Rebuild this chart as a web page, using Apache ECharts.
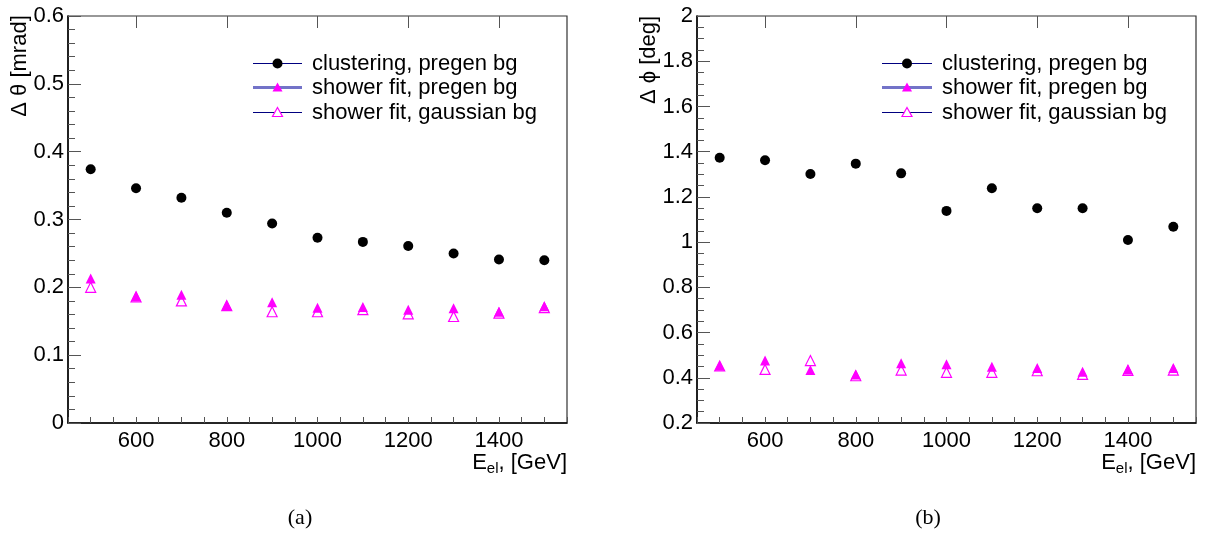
<!DOCTYPE html>
<html>
<head>
<meta charset="utf-8">
<script src="https://cdn.jsdelivr.net/npm/echarts@6/dist/echarts.min.js"></script>
<style>
  html, body { margin: 0; padding: 0; background: #fff; }
  #main { width: 1206px; height: 534px; }
</style>
</head>
<body>
<div id="main"></div>
<script>
// beam energies (GeV)
var energies = [500, 600, 700, 800, 900, 1000, 1100, 1200, 1300, 1400, 1500];

// (a) delta theta [mrad]
var thetaClustering = [0.374, 0.346, 0.332, 0.310, 0.294, 0.273, 0.267, 0.261, 0.250, 0.241, 0.240];
var thetaShowerPregen = [0.213, 0.187, 0.189, 0.174, 0.178, 0.170, 0.171, 0.167, 0.169, 0.164, 0.172];
var thetaShowerGauss = [0.200, 0.186, 0.180, 0.173, 0.164, 0.164, 0.167, 0.161, 0.157, 0.162, 0.170];

// (b) delta phi [deg]
var phiClustering = [1.373, 1.362, 1.301, 1.347, 1.304, 1.138, 1.238, 1.150, 1.150, 1.009, 1.068];
var phiShowerPregen = [0.453, 0.476, 0.434, 0.415, 0.464, 0.460, 0.449, 0.443, 0.427, 0.437, 0.443];
var phiShowerGauss = [0.452, 0.437, 0.476, 0.409, 0.434, 0.424, 0.424, 0.431, 0.415, 0.433, 0.434];

var legendNames = ['clustering, pregen bg', 'shower fit, pregen bg', 'shower fit, gaussian bg'];
var majorX = [600, 800, 1000, 1200, 1400];

var FONT = 'Liberation Sans, Arial, sans-serif';
var MAGENTA = '#ff00ff';

function pairs(ys) {
  return energies.map(function (x, i) { return [x, ys[i]]; });
}

var myChart = echarts.init(document.getElementById('main'));

function xAxes(gridIndex) {
  return [
    {
      type: 'value', gridIndex: gridIndex, min: 450, max: 1550, interval: 50,
      axisLine: { lineStyle: { color: '#000', width: 1.5 } },
      axisTick: { inside: true, length: 6, lineStyle: { color: '#555' } },
      axisLabel: {
        margin: 7, color: '#000', fontSize: 22, fontFamily: FONT,
        formatter: function (v) { return v % 200 === 0 ? String(v) : ''; }
      },
      splitLine: { show: false }
    },
    {
      type: 'value', gridIndex: gridIndex, min: 450, max: 1550,
      axisLine: { show: false },
      axisTick: { inside: true, length: 12, customValues: majorX, lineStyle: { color: '#555' } },
      axisLabel: { show: false },
      splitLine: { show: false }
    }
  ];
}

function yAxis(gridIndex, min, max, interval, minorSplit) {
  return {
    type: 'value', gridIndex: gridIndex, min: min, max: max, interval: interval,
    axisLine: { show: true, lineStyle: { color: '#000', width: 1.5 } },
    axisTick: { show: true, inside: true, length: 13, lineStyle: { color: '#555' } },
    minorTick: { show: true, splitNumber: minorSplit, length: 7, lineStyle: { color: '#555' } },
    axisLabel: { margin: 4, color: '#000', fontSize: 22, fontFamily: FONT },
    splitLine: { show: false }
  };
}

function seriesFor(xi, yi, clus, pregen, gauss) {
  return [
    {
      type: 'scatter', xAxisIndex: xi, yAxisIndex: yi, data: pairs(clus),
      symbol: 'circle', symbolSize: 10, itemStyle: { color: '#000', opacity: 1 }, z: 5
    },
    {
      type: 'scatter', xAxisIndex: xi, yAxisIndex: yi, data: pairs(pregen),
      symbol: 'triangle', symbolSize: 10, itemStyle: { color: MAGENTA, opacity: 1 }, z: 4
    },
    {
      type: 'scatter', xAxisIndex: xi, yAxisIndex: yi, data: pairs(gauss),
      symbol: 'triangle', symbolSize: 10,
      itemStyle: { color: 'rgba(0,0,0,0)', borderColor: MAGENTA, borderWidth: 1.2, opacity: 1 }, z: 6
    }
  ];
}

// legend drawn by hand (line through marker, ROOT style)
function legendGraphics(x0, x1, textX) {
  var rows = [63.5, 87.5, 112.5];
  var lineCol = ['#000080', '#7373c8', '#000080'];
  var lineW = [1, 3, 1];
  var mid = (x0 + x1) / 2;
  var g = [];
  rows.forEach(function (y, i) {
    g.push({ type: 'line', shape: { x1: x0, y1: y, x2: x1, y2: y }, style: { stroke: lineCol[i], lineWidth: lineW[i] } });
    if (i === 0) {
      g.push({ type: 'circle', shape: { cx: mid, cy: y, r: 5 }, style: { fill: '#000' } });
    } else {
      g.push({
        type: 'polygon',
        shape: { points: [[mid, y - 5], [mid + 5, y + 4], [mid - 5, y + 4]] },
        style: i === 1 ? { fill: MAGENTA } : { fill: '#fff', stroke: MAGENTA, lineWidth: 1.2 }
      });
    }
    g.push({
      type: 'text', x: textX, y: y,
      style: { text: legendNames[i], font: '22px ' + FONT, fill: '#000', verticalAlign: 'middle' }
    });
  });
  return g;
}

var xTitle = {
  text: '{m|E}{s|el}{m|, [GeV]}', align: 'right', verticalAlign: 'middle',
  rich: {
    m: { font: '22px ' + FONT, fill: '#000' },
    s: { font: '15px ' + FONT, fill: '#000', padding: [12, 0, 0, 0] }
  }
};

var graphics = [].concat(
  legendGraphics(253, 302, 312),
  legendGraphics(882, 932, 942),
  [
    { type: 'text', x: 20, y: 66, rotation: Math.PI / 2,
      style: { text: 'Δ θ [mrad]', font: '22px ' + FONT, fill: '#000', align: 'center', verticalAlign: 'middle' } },
    { type: 'text', x: 649, y: 60, rotation: Math.PI / 2,
      style: { text: 'Δ ϕ [deg]', font: '22px ' + FONT, fill: '#000', align: 'center', verticalAlign: 'middle' } },
    { type: 'text', x: 567, y: 463, style: xTitle },
    { type: 'text', x: 1196, y: 463, style: echarts.util.clone(xTitle) },
    { type: 'text', x: 300, y: 518,
      style: { text: '(a)', font: '22px Liberation Serif, Times New Roman, serif', fill: '#000', align: 'center', verticalAlign: 'middle' } },
    { type: 'text', x: 928, y: 518,
      style: { text: '(b)', font: '22px Liberation Serif, Times New Roman, serif', fill: '#000', align: 'center', verticalAlign: 'middle' } }
  ]
);

myChart.setOption({
  animation: false,
  grid: [
    { left: 68, top: 16, width: 499, height: 407, show: true, borderColor: '#333', borderWidth: 1.2, backgroundColor: '#fff' },
    { left: 697, top: 16, width: 499, height: 407, show: true, borderColor: '#333', borderWidth: 1.2, backgroundColor: '#fff' }
  ],
  xAxis: [].concat(xAxes(0), xAxes(1)),
  yAxis: [
    yAxis(0, 0, 0.6, 0.1, 5),
    yAxis(1, 0.2, 2, 0.2, 4)
  ],
  series: [].concat(
    seriesFor(0, 0, thetaClustering, thetaShowerPregen, thetaShowerGauss),
    seriesFor(2, 1, phiClustering, phiShowerPregen, phiShowerGauss)
  ),
  graphic: graphics
});
</script>
</body>
</html>
